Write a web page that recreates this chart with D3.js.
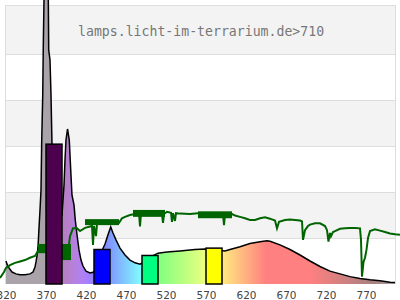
<!DOCTYPE html>
<html>
<head>
<meta charset="utf-8">
<script src="https://cdn.jsdelivr.net/npm/d3@7"></script>
<style>
  body { margin: 0; background: #fff; }
  svg { display: block; }
</style>
</head>
<body>
<div id="chart"></div>
<script>
// spectrum of the lamp: wavelength (nm) and relative intensity
var specNm = [320, 321.25, 323.75, 327.5, 332.5, 337.5, 343.75, 350, 353.75, 356.25, 357.5, 358.75, 360, 361.25, 362.5, 363.75, 364.6, 365.9, 366.6, 367.5, 370,
              372.9, 373.4, 375, 376.25, 377.5, 381.25, 385, 390, 392.5, 393.75, 395, 396.9, 399.1, 400.9, 402.5, 405, 406.6, 408.75, 411.25, 413.75,
              416.25, 420, 425, 430, 433.75, 437.5, 443.75, 447.5, 450.9, 453.75, 457.5, 462.5, 468.75, 475, 481.25, 487.5, 495, 502, 510, 518.75,
              525, 537.5, 556.25, 568.75, 580, 593.75, 600, 612.5, 625, 637.5, 646.25, 650, 662.5, 675, 687.5, 700, 712.5, 725, 737.5, 750,
              762.5, 775, 787.5, 800, 806.25];
var specVal = [0.50, 0.43, 0.35, 0.26, 0.22, 0.20, 0.20, 0.22, 0.26, 0.37, 0.48, 0.61, 0.80, 1.22, 1.61, 2.04, 3.07, 4.09, 5.15, 6.17, 7.04,
               6.17, 5.09, 4.87, 4.11, 3.02, 1.83, 1.28, 1.50, 2.15, 2.70, 3.13, 3.37, 3.13, 2.48, 1.93, 1.72, 1.39, 1.07, 0.74, 0.52,
               0.39, 0.28, 0.24, 0.26, 0.45, 0.63, 0.87, 1.07, 1.24, 1.11, 0.96, 0.78, 0.63, 0.52, 0.46, 0.43, 0.50, 0.60, 0.67, 0.69,
               0.70, 0.72, 0.75, 0.76, 0.75, 0.72, 0.75, 0.81, 0.88, 0.92, 0.94, 0.93, 0.85, 0.75, 0.63, 0.50, 0.38, 0.28, 0.22, 0.16,
               0.12, 0.09, 0.07, 0.04, 0.03];

// transmission curve (green)
var transNm = [312.5, 317.5, 320, 325, 331.25, 337.5, 343.75, 350, 356.25, 360, 365, 370, 390, 397.5, 400, 403.75, 408.75, 412.5, 418.75, 425,
               427.5, 428.75, 430, 432.5, 433.75, 443.75, 456.25, 461.25, 465, 468.75, 475, 481.25, 486.25, 487.5, 488.75, 500, 515, 516.25, 517.5, 521.25,
               526.25, 527.5, 528.75, 531.25, 532.5, 537.5, 550, 560, 581.25, 591.25, 592.5, 593.75, 602.5, 606.25, 612.5, 618.75, 625, 631.25, 637.5, 643.75,
               650, 656.25, 658.75, 661.25, 668.75, 675, 687.5, 690, 691.25, 693.75, 697.5, 700, 706.25, 712.5, 718.75, 721.25, 723.1, 725, 726.25, 728.75,
               731.25, 737.5, 743.75, 750, 756.25, 762.5, 763.75, 765, 766.9, 768.75, 770.6, 772.5, 775, 781.25, 787.5, 793.75, 800, 806.25, 812.5];
var transVal = [0.13, 0.26, 0.35, 0.41, 0.46, 0.49, 0.52, 0.57, 0.61, 0.72, 0.78, 0.80, 0.74, 0.70, 1.04, 1.21, 1.21, 1.15, 1.22, 1.25,
                1.26, 0.85, 1.26, 1.04, 1.30, 1.35, 1.35, 1.33, 1.43, 1.46, 1.50, 1.52, 1.54, 1.25, 1.54, 1.54, 1.52, 1.33, 1.52, 1.57,
                1.55, 1.35, 1.54, 1.37, 1.54, 1.53, 1.52, 1.54, 1.54, 1.52, 1.28, 1.52, 1.52, 1.49, 1.46, 1.43, 1.39, 1.39, 1.43, 1.45,
                1.42, 1.38, 1.21, 1.35, 1.39, 1.40, 1.38, 1.36, 0.96, 1.17, 1.26, 1.29, 1.32, 1.32, 1.26, 1.17, 0.92, 1.11, 1.04, 1.13,
                1.15, 1.20, 1.21, 1.22, 1.22, 1.21, 0.96, 0.16, 0.48, 0.57, 0.74, 1.00, 1.15, 1.19, 1.16, 1.13, 1.10, 1.08, 1.07];
// noisy stretches of the transmission curve: [from nm, to nm, high, low]
var transNoise = [[360, 370, 0.87, 0.67], [390, 401.25, 0.87, 0.52], [418.75, 461.25, 1.41, 1.28],
                  [478.75, 518.75, 1.61, 1.46], [560, 602.5, 1.58, 1.43]];

// LED bars
var ledCenter = [380, 440, 500, 580];
var ledValue = [3.04, 0.75, 0.62, 0.78];
var ledWidth = 20;

var tickNm = [320, 370, 420, 470, 520, 570, 620, 670, 720, 770];
var title = "lamps.licht-im-terrarium.de>710";

var W = 400, H = 300;
var x = d3.scaleLinear().domain([320, 806.25]).range([6, 395]);
var y = d3.scaleLinear().domain([0, 6]).range([284, 8]);

var svg = d3.select("#chart").append("svg").attr("width", W).attr("height", H);

// saturated colour of a wavelength
function waveRGB(wl){
    var r = 0, g = 0, b = 0;
    if (wl < 440){ r = (440 - wl)/60; b = 1; }
    else if (wl < 490){ g = (wl - 440)/50; b = 1; }
    else if (wl < 510){ g = 1; b = (510 - wl)/20; }
    else if (wl < 580){ r = (wl - 510)/70; g = 1; }
    else if (wl < 645){ r = 1; g = (645 - wl)/65; }
    else { r = 1; }
    var f = 1;
    if (wl < 420) f = 0.3 + 0.7*(wl - 380)/40;
    else if (wl > 700) f = Math.max(0.3, 0.3 + 0.7*(780 - wl)/80);
    return [r*f, g*f, b*f];
}
var uvGray = d3.rgb(170, 163, 170);
function fillColor(wl){
    if (wl < 380) return uvGray;
    var c = waveRGB(wl);
    var col = d3.rgb(255*(0.5 + 0.5*c[0]), 255*(0.5 + 0.5*c[1]), 255*(0.5 + 0.5*c[2]));
    if (wl > 780) return d3.interpolateRgb(col, uvGray)((wl - 780)/26);
    return col;
}
function barColor(wl){
    var c = waveRGB(wl);
    return d3.rgb(255*c[0], 255*c[1], 255*c[2]);
}

// background bands and grid
var bands = d3.range(0, 6);
svg.selectAll("rect.band").data(bands).enter().append("rect")
    .attr("x", x.range()[0]).attr("width", x.range()[1] - x.range()[0])
    .attr("y", function(d){ return d == 5 ? 5.5 : y(d + 1); })
    .attr("height", function(d){ return d == 5 ? y(5) - 5.5 : y(d) - y(d + 1); })
    .attr("fill", function(d){ return d % 2 ? "#f3f3f3" : "#fff"; });
svg.selectAll("line.grid").data(d3.range(1, 6)).enter().append("line")
    .attr("x1", x.range()[0]).attr("x2", x.range()[1])
    .attr("y1", function(d){ return Math.round(y(d)) + 0.5; })
    .attr("y2", function(d){ return Math.round(y(d)) + 0.5; })
    .attr("stroke", "#ddd");
svg.append("path")
    .attr("d", "M5.5,284V5.5H395.5V284")
    .attr("fill", "none").attr("stroke", "#ddd");

// gradient along the wavelength axis
var grad = svg.append("defs").append("linearGradient").attr("id", "spec")
    .attr("gradientUnits", "userSpaceOnUse")
    .attr("x1", x(320)).attr("x2", x(806.25)).attr("y1", 0).attr("y2", 0);
grad.selectAll("stop").data(d3.range(320, 808, 2)).enter().append("stop")
    .attr("offset", function(d){ return (d - 320)/(806.25 - 320); })
    .attr("stop-color", function(d){ return fillColor(d); });

var spec = specNm.map(function(d, i){ return [d, specVal[i]]; });
svg.append("path").datum(spec)
    .attr("d", d3.area().x(function(d){ return x(d[0]); }).y0(y(0)).y1(function(d){ return y(d[1]); }))
    .attr("fill", "url(#spec)");
svg.append("path").datum(spec)
    .attr("d", d3.line().x(function(d){ return x(d[0]); }).y(function(d){ return y(d[1]); }))
    .attr("fill", "none").attr("stroke", "#000").attr("stroke-width", 1.5);

// transmission
var trans = transNm.map(function(d, i){ return [d, transVal[i]]; });
svg.append("path").datum(trans)
    .attr("d", d3.line().x(function(d){ return x(d[0]); }).y(function(d){ return y(d[1]); }))
    .attr("fill", "none").attr("stroke", "#006400").attr("stroke-width", 2);
svg.selectAll("rect.noise").data(transNoise).enter().append("rect")
    .attr("x", function(d){ return x(d[0]); })
    .attr("width", function(d){ return x(d[1]) - x(d[0]); })
    .attr("y", function(d){ return y(d[2]); })
    .attr("height", function(d){ return y(d[3]) - y(d[2]); })
    .attr("fill", "#006400");

// LED bars
svg.selectAll("rect.led").data(ledCenter).enter().append("rect")
    .attr("x", function(d){ return x(d - ledWidth/2); })
    .attr("width", function(d){ return x(d + ledWidth/2) - x(d - ledWidth/2); })
    .attr("y", function(d, i){ return y(ledValue[i]); })
    .attr("height", function(d, i){ return y(0) - y(ledValue[i]); })
    .attr("fill", function(d){ return barColor(d); })
    .attr("stroke", "#000").attr("stroke-width", 1.5);

// axis
var axis = svg.append("g").attr("transform", "translate(0,284)")
    .call(d3.axisBottom(x).tickValues(tickNm).tickSize(0).tickPadding(8).tickFormat(d3.format("d")));
axis.select(".domain").remove();
axis.selectAll("text").attr("fill", "#444")
    .style("font-family", "DejaVu Sans, sans-serif").style("font-size", "10.5px");

svg.append("text").attr("x", 78).attr("y", 36).text(title)
    .attr("fill", "#777")
    .style("font-family", "DejaVu Sans Mono, monospace").style("font-size", "13.2px");
</script>
</body>
</html>
